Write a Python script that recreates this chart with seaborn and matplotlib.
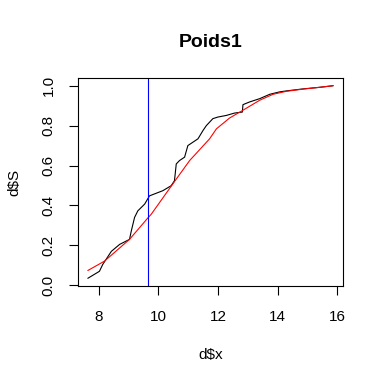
import matplotlib
matplotlib.use("Agg")
import matplotlib.pyplot as plt
import seaborn as sns
import pandas as pd

x_emp = [7.63, 8.02, 8.13, 8.42, 8.70, 9.03, 9.09, 9.20, 9.31, 9.54, 9.65,
         9.70, 10.15, 10.43, 10.54, 10.60, 10.71, 10.88, 10.99, 11.16, 11.33,
         11.50, 11.61, 11.83, 12.00, 12.28, 12.56, 12.82, 12.84, 13.07, 13.40,
         13.74, 14.07, 14.30, 14.86, 15.42, 15.87]
s_emp = [0.035, 0.070, 0.104, 0.170, 0.205, 0.230, 0.272, 0.340, 0.373, 0.407, 0.435,
         0.448, 0.474, 0.499, 0.524, 0.608, 0.625, 0.642, 0.700, 0.717, 0.734,
         0.776, 0.800, 0.835, 0.843, 0.851, 0.863, 0.868, 0.905, 0.919, 0.935,
         0.957, 0.969, 0.974, 0.984, 0.992, 1.000]

# fitted curve (red)
x_fit = [7.63, 8.19, 9.03, 9.65, 9.76, 10.60, 11.05, 11.72, 11.95, 12.39,
         12.84, 13.40, 13.85, 14.30, 14.86, 15.42, 15.87]
s_fit = [0.074, 0.121, 0.230, 0.338, 0.356, 0.532, 0.625, 0.734, 0.784, 0.838,
         0.877, 0.927, 0.957, 0.972, 0.983, 0.992, 1.000]

X_CUT = 9.64  # blue vertical line

emp = pd.DataFrame({"x": x_emp, "S": s_emp})
fit = pd.DataFrame({"x": x_fit, "S": s_fit})

sns.set_theme(style="ticks")
plt.rcParams["font.family"] = ["Liberation Sans", "DejaVu Sans"]
plt.rcParams["text.color"] = "black"
plt.rcParams["axes.labelcolor"] = "black"

fig = plt.figure(figsize=(3.84, 3.84), dpi=100)
ax = fig.add_axes([78 / 384, 1 - 286 / 384, 265 / 384, 208 / 384])

sns.lineplot(data=emp, x="x", y="S", color="black", lw=0.8, sort=False,
             estimator=None, ax=ax)
sns.lineplot(data=fit, x="x", y="S", color="red", lw=0.8, sort=False,
             estimator=None, ax=ax)
ax.axvline(X_CUT, color="blue", lw=0.8)

# R-style 4% padding
xr = max(x_emp) - min(x_emp)
ax.set_xlim(min(x_emp) - 0.04 * xr, max(x_emp) + 0.04 * xr)
yr = 1.0 - min(s_emp)
ax.set_ylim(min(s_emp) - 0.04 * yr, 1.0 + 0.04 * yr)

ax.set_xticks([8, 10, 12, 14, 16])
ax.set_yticks([0.0, 0.2, 0.4, 0.6, 0.8, 1.0])
ax.set_yticklabels(["0.0", "0.2", "0.4", "0.6", "0.8", "1.0"])
for s in ax.spines.values():
    s.set_visible(True)
    s.set_linewidth(0.8)
    s.set_color("black")
ax.tick_params(axis="both", length=6.5, width=0.8, color="black",
               labelsize=11, labelcolor="black")
ax.tick_params(axis="x", pad=10.5)
ax.tick_params(axis="y", pad=9.5, labelrotation=90)
for lab in ax.get_yticklabels():
    lab.set_va("center")

ax.set_title("Poids1", fontsize=14, fontweight="bold", pad=22.5, color="black")
ax.set_xlabel("d$x", fontsize=11, color="black")
ax.set_ylabel("d$S", fontsize=11, color="black")
ax.xaxis.set_label_coords(0.5, -0.30)
ax.yaxis.set_label_coords(-0.215, 0.5)

fig.savefig("out.png", dpi=100, facecolor="white")
